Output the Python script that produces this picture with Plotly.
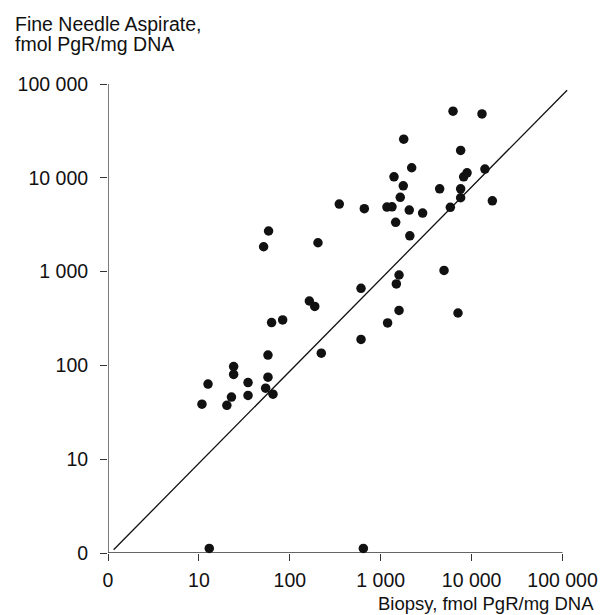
import plotly.graph_objects as go

# Biopsy (x) and Fine Needle Aspirate (y), fmol PgR/mg DNA
biopsy = [6240, 13000, 1790, 7570, 2190, 14000, 1400, 8900, 8170, 1770,
          4450, 7570, 1640, 7570, 350, 660, 1170, 1330, 2060, 2890,
          5830, 16900, 1460, 2090, 58.4, 51.5, 204, 4970, 1590, 1485,
          607, 164, 188, 1590, 1190, 607, 7080, 63, 83.4, 57.5,
          222, 12.6, 24.1, 24.1, 34.7, 57.5, 54.2, 65.3, 34.7, 22.8,
          20.3, 10.8, 13.0, 644]
aspirate = [51300, 48000, 25800, 19600, 12800, 12400, 10250, 11300, 10250, 8220,
            7640, 7640, 6190, 6130, 5250, 4680, 4880, 4910, 4530, 4210,
            4840, 5690, 3350, 2410, 2710, 1840, 2030, 1030, 920, 738,
            664, 486, 425, 385, 284, 189, 362, 286, 305, 129,
            135, 63.2, 97.1, 80.2, 65.6, 74.8, 57.2, 49.4, 47.9, 45.9,
            37.5, 38.6, 0, 0]

# "0" is drawn on the log scale at the 10^0 position
ZERO_POS = 1.12
aspirate_plot = [v if v > 0 else ZERO_POS for v in aspirate]

tick_vals = [1, 10, 100, 1000, 10000, 100000]
tick_text = ["0", "10", "100", "1 000", "10 000", "100 000"]

# reference line
line_x = [1.153, 112200]
line_y = [1.084, 85900]

FONT = "Liberation Sans, Arial, Helvetica, sans-serif"
INK = "#111111"
FS = 19.5

fig = go.Figure()

# axis lines from 0 to 100 000
fig.add_trace(go.Scatter(x=[tick_vals[0], tick_vals[-1]], y=[tick_vals[0], tick_vals[0]],
                         mode="lines", line=dict(color="#333333", width=1.3),
                         hoverinfo="skip", showlegend=False, cliponaxis=False))
fig.add_trace(go.Scatter(x=[tick_vals[0], tick_vals[0]], y=[tick_vals[0], tick_vals[-1]],
                         mode="lines", line=dict(color="#333333", width=1.3),
                         hoverinfo="skip", showlegend=False, cliponaxis=False))

fig.add_trace(go.Scatter(x=line_x, y=line_y, mode="lines",
                         line=dict(color=INK, width=1.3),
                         hoverinfo="skip", showlegend=False, cliponaxis=False))

fig.add_trace(go.Scatter(x=biopsy, y=aspirate_plot, mode="markers",
                         marker=dict(color=INK, size=9.5, line=dict(width=0)),
                         showlegend=False, cliponaxis=False))

fig.update_xaxes(type="log", range=[0, 5.06], tickvals=tick_vals, ticktext=tick_text,
                 ticks="outside", ticklen=7, tickcolor="#333333", tickwidth=1.2,
                 showline=False, showgrid=False, zeroline=False, automargin=False,
                 tickfont=dict(family=FONT, size=FS, color=INK), ticklabelstandoff=3)
fig.update_yaxes(type="log", range=[0, 5], tickvals=tick_vals, ticktext=tick_text,
                 ticks="outside", ticklen=7, tickcolor="#333333", tickwidth=1.2,
                 showline=False, showgrid=False, zeroline=False, automargin=False,
                 tickfont=dict(family=FONT, size=FS, color=INK), ticklabelstandoff=8)

fig.add_annotation(text="Fine Needle Aspirate,", xref="paper", yref="paper",
                   x=-0.206, y=1.128, xanchor="left", yanchor="middle", showarrow=False,
                   font=dict(family=FONT, size=FS, color=INK))
fig.add_annotation(text="fmol PgR/mg DNA", xref="paper", yref="paper",
                   x=-0.206, y=1.085, xanchor="left", yanchor="middle", showarrow=False,
                   font=dict(family=FONT, size=FS, color=INK))
fig.add_annotation(text="Biopsy, fmol PgR/mg DNA", xref="paper", yref="paper",
                   x=1.0587, y=-0.107, xanchor="right", yanchor="middle", showarrow=False,
                   borderpad=0, font=dict(family=FONT, size=18.5, color=INK))

# page body has an 8px default margin, so the figure is 8px smaller each way
fig.update_layout(width=600, height=607, margin=dict(l=100, r=40, t=76, b=62),
                  plot_bgcolor="white", paper_bgcolor="white")

fig.write_html("out.html")
